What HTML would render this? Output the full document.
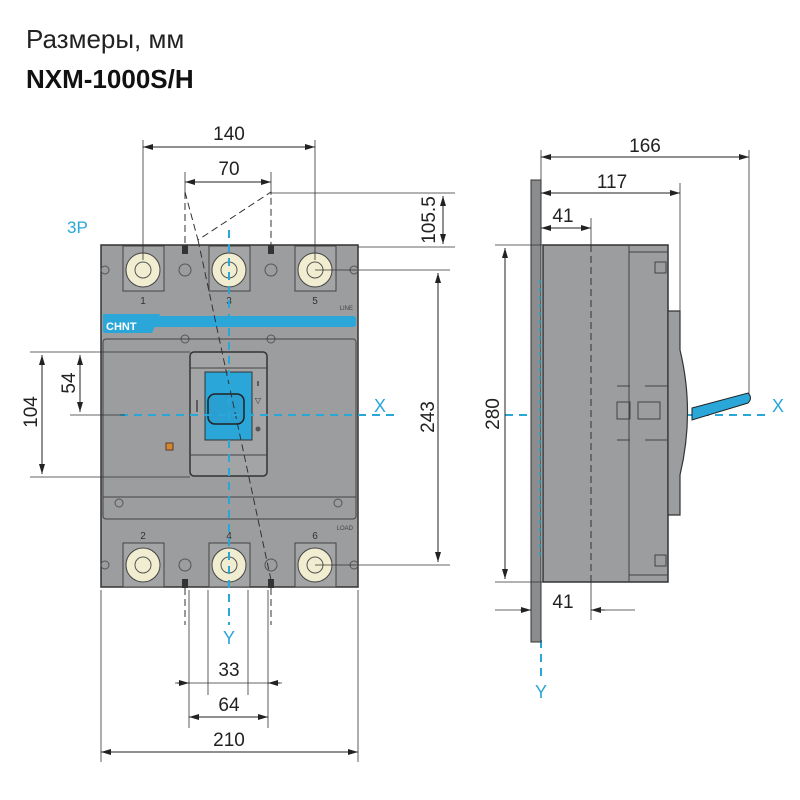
<!DOCTYPE html>
<html><head><meta charset="utf-8"><style>
body{margin:0;background:#fff}
svg{display:block}
text{font-family:"Liberation Sans","DejaVu Sans",sans-serif}
</style></head><body>
<svg width="800" height="800" viewBox="0 0 800 800" xmlns="http://www.w3.org/2000/svg">
<defs>
<marker id="a" viewBox="0 0 10 6" refX="10" refY="3" markerWidth="10" markerHeight="6" orient="auto-start-reverse" markerUnits="userSpaceOnUse"><path d="M0,0 L10,3 L0,6 z" fill="#222"/></marker>
</defs>
<text x="26" y="48" font-size="26" fill="#222">Размеры, мм</text>
<text x="26" y="88" font-size="26" font-weight="bold" fill="#111">NXM-1000S/H</text>
<text x="67" y="233" font-size="17" fill="#2aa6d9">3P</text>

<!-- front body -->
<rect x="101" y="245" width="257" height="342" fill="#9c9d9f" stroke="#333" stroke-width="1.5"/>
<g stroke="#444" fill="#a3a4a6" stroke-width="1">
<rect x="123" y="246" width="41" height="45"/><rect x="209" y="246" width="41" height="45"/><rect x="295" y="246" width="41" height="45"/>
<rect x="123" y="543" width="41" height="44"/><rect x="209" y="543" width="41" height="44"/><rect x="295" y="543" width="41" height="44"/>
</g>
<g fill="#f1edd0" stroke="#444">
<circle cx="143" cy="270" r="17"/><circle cx="229" cy="270" r="17"/><circle cx="315" cy="270" r="17"/>
<circle cx="143" cy="565" r="17"/><circle cx="229" cy="565" r="17"/><circle cx="315" cy="565" r="17"/>
</g>
<g fill="none" stroke="#555">
<circle cx="143" cy="270" r="8"/><circle cx="229" cy="270" r="8"/><circle cx="315" cy="270" r="8"/>
<circle cx="143" cy="565" r="8"/><circle cx="229" cy="565" r="8"/><circle cx="315" cy="565" r="8"/>
<circle cx="185" cy="270" r="6"/><circle cx="271" cy="270" r="6"/><circle cx="185" cy="565" r="6"/><circle cx="271" cy="565" r="6"/>
<circle cx="105" cy="270" r="4"/><circle cx="354" cy="270" r="4"/><circle cx="105" cy="565" r="4"/><circle cx="354" cy="565" r="4"/>
<circle cx="185" cy="339" r="4"/><circle cx="271" cy="339" r="4"/><circle cx="119" cy="503" r="4"/><circle cx="338" cy="503" r="4"/>
</g>
<g fill="#333"><rect x="182" y="245" width="6" height="9"/><rect x="268" y="245" width="6" height="9"/><rect x="182" y="579" width="6" height="9"/><rect x="268" y="579" width="6" height="9"/></g>
<g font-size="10" fill="#333" text-anchor="middle">
<text x="143" y="304">1</text><text x="229" y="304">3</text><text x="315" y="304">5</text>
<text x="143" y="539">2</text><text x="229" y="539">4</text><text x="315" y="539">6</text>
</g>
<text x="353" y="310" font-size="6" fill="#444" text-anchor="end">LINE</text>
<text x="353" y="530" font-size="6" fill="#444" text-anchor="end">LOAD</text>
<rect x="103" y="316" width="253" height="11" rx="3" fill="#2aa6d9"/>
<path d="M103,314 H160 L152,333 H105 Q103,333 103,331 z" fill="#2aa6d9"/>
<text x="106" y="330" font-size="11" font-weight="bold" fill="#fff">CHNT</text>
<rect x="103" y="339" width="253" height="180" rx="3" fill="none" stroke="#444"/>
<line x1="103" y1="497" x2="356" y2="497" stroke="#444"/>
<rect x="190" y="352" width="77" height="124" rx="4" fill="#a3a4a6" stroke="#333" stroke-width="1.5"/>
<line x1="190" y1="368" x2="267" y2="368" stroke="#444"/><line x1="190" y1="455" x2="267" y2="455" stroke="#444"/>
<rect x="205" y="372" width="47" height="68" fill="#2aa6d9" stroke="#333"/>
<rect x="208" y="394" width="36" height="30" rx="7" fill="#2a9fd2" stroke="#222" stroke-width="1.5"/>
<rect x="166" y="443" width="7" height="7" fill="#d08a2c" stroke="#633"/>
<g stroke="#444" stroke-width="1.5"><line x1="258" y1="381" x2="258" y2="386"/><line x1="197" y1="400" x2="197" y2="412"/></g>
<text x="258" y="403" font-size="8" fill="#333" text-anchor="middle">▽</text>
<circle cx="258" cy="429" r="2.5" fill="#555"/>

<!-- dashed pivot lines front -->
<g fill="none" stroke="#333" stroke-dasharray="7,4">
<path d="M185,192 L185,245 M185,192 L198,240 L271,192 L271,245"/>
<path d="M198,240 L271,580"/>
<path d="M185,588 V625 M271,588 V625"/>
</g>
<!-- axes -->
<g stroke="#2aa6d9" stroke-width="2" stroke-dasharray="8,6" fill="none">
<line x1="229" y1="230" x2="229" y2="625"/>
<line x1="120" y1="415" x2="395" y2="415"/>
<line x1="505" y1="415" x2="770" y2="415"/>
<line x1="541" y1="640" x2="541" y2="680"/>
</g>
<g font-size="18" fill="#2aa6d9" text-anchor="middle">
<text x="229" y="644">Y</text><text x="380" y="412">X</text><text x="778" y="412">X</text><text x="541" y="698">Y</text>
</g>

<!-- front dimensions -->
<g stroke="#333" stroke-width="0.8" fill="none">
<line x1="143" y1="140" x2="143" y2="260"/><line x1="315" y1="140" x2="315" y2="260"/>
<line x1="185" y1="172" x2="185" y2="195"/><line x1="271" y1="172" x2="271" y2="195"/>
<line x1="271" y1="193" x2="455" y2="193"/><line x1="358" y1="247" x2="455" y2="247"/>
<line x1="315" y1="270" x2="450" y2="270"/><line x1="315" y1="565" x2="450" y2="565"/>
<line x1="30" y1="352" x2="190" y2="352"/><line x1="30" y1="477" x2="190" y2="477"/>
<line x1="70" y1="415" x2="125" y2="415"/>
<line x1="101" y1="590" x2="101" y2="762"/><line x1="358" y1="590" x2="358" y2="762"/>
<line x1="189" y1="590" x2="189" y2="728"/><line x1="268" y1="590" x2="268" y2="728"/>
<line x1="208" y1="590" x2="208" y2="695"/><line x1="248" y1="590" x2="248" y2="695"/>
<line x1="175" y1="683" x2="282" y2="683"/>
</g>
<g stroke="#222" stroke-width="1" fill="none">
<line x1="143" y1="147" x2="315" y2="147" marker-start="url(#a)" marker-end="url(#a)"/>
<line x1="185" y1="182" x2="271" y2="182" marker-start="url(#a)" marker-end="url(#a)"/>
<line x1="443" y1="196" x2="443" y2="244" marker-start="url(#a)" marker-end="url(#a)"/>
<line x1="438" y1="273" x2="438" y2="562" marker-start="url(#a)" marker-end="url(#a)"/>
<line x1="42" y1="355" x2="42" y2="474" marker-start="url(#a)" marker-end="url(#a)"/>
<line x1="80" y1="355" x2="80" y2="412" marker-start="url(#a)" marker-end="url(#a)"/>
<line x1="177" y1="683" x2="189" y2="683" marker-end="url(#a)"/>
<line x1="280" y1="683" x2="268" y2="683" marker-end="url(#a)"/>
<line x1="189" y1="717" x2="268" y2="717" marker-start="url(#a)" marker-end="url(#a)"/>
<line x1="101" y1="752" x2="358" y2="752" marker-start="url(#a)" marker-end="url(#a)"/>
</g>
<g font-size="19" fill="#222" text-anchor="middle">
<text x="229" y="140">140</text><text x="229" y="175">70</text>
<text x="229" y="676">33</text><text x="229" y="711">64</text><text x="229" y="746">210</text>
<text transform="translate(435,220) rotate(-90)">105.5</text>
<text transform="translate(434,417) rotate(-90)">243</text>
<text transform="translate(37,412) rotate(-90)">104</text>
<text transform="translate(75,383) rotate(-90)">54</text>
<text transform="translate(499,414) rotate(-90)">280</text>
<text x="645" y="152">166</text><text x="612" y="188">117</text>
<text x="563" y="222">41</text><text x="563" y="608">41</text>
</g>

<!-- side view -->
<rect x="531" y="180" width="10" height="462" fill="#8b8c8e" stroke="#333"/>
<rect x="543" y="245" width="125" height="337" fill="#9c9d9f" stroke="#333" stroke-width="1.5"/>
<line x1="629" y1="245" x2="629" y2="582" stroke="#444"/>
<line x1="629" y1="252" x2="668" y2="252" stroke="#444"/><line x1="629" y1="575" x2="668" y2="575" stroke="#444"/>
<rect x="655" y="262" width="11" height="11" fill="none" stroke="#444"/><rect x="655" y="555" width="11" height="11" fill="none" stroke="#444"/>
<path d="M668,311 H680 V350 Q695,412 680,475 V515 H668 z" fill="#9c9d9f" stroke="#333" stroke-width="1.2"/>
<path d="M692,408 L748,393 Q753,398 748,403 L692,420 z" fill="#2aa6d9" stroke="#222"/>
<g fill="none" stroke="#444"><rect x="617" y="402" width="13" height="17"/><rect x="638" y="402" width="22" height="17"/>
<line x1="617" y1="386" x2="630" y2="386"/><line x1="645" y1="386" x2="668" y2="386"/><line x1="617" y1="440" x2="630" y2="440"/><line x1="645" y1="440" x2="668" y2="440"/></g>
<line x1="591" y1="245" x2="591" y2="582" stroke="#333" stroke-dasharray="7,4"/>
<g stroke="#2aa6d9" stroke-width="1.5" stroke-dasharray="4,4"><line x1="540" y1="280" x2="540" y2="560"/></g>
<g stroke="#333" stroke-width="0.8">
<line x1="541" y1="150" x2="541" y2="245"/><line x1="749" y1="150" x2="749" y2="395"/>
<line x1="680" y1="183" x2="680" y2="311"/><line x1="591" y1="218" x2="591" y2="245"/>
<line x1="495" y1="245" x2="543" y2="245"/><line x1="495" y1="582" x2="543" y2="582"/>
<line x1="591" y1="582" x2="591" y2="620"/>
<line x1="495" y1="610" x2="531" y2="610"/><line x1="591" y1="610" x2="635" y2="610"/>
</g>
<g stroke="#222" stroke-width="1" fill="none">
<line x1="541" y1="157" x2="749" y2="157" marker-start="url(#a)" marker-end="url(#a)"/>
<line x1="541" y1="193" x2="680" y2="193" marker-start="url(#a)" marker-end="url(#a)"/>
<line x1="541" y1="228" x2="591" y2="228" marker-start="url(#a)" marker-end="url(#a)"/>
<line x1="505" y1="248" x2="505" y2="579" marker-start="url(#a)" marker-end="url(#a)"/>
<line x1="520" y1="610" x2="531" y2="610" marker-end="url(#a)"/>
<line x1="605" y1="610" x2="591" y2="610" marker-end="url(#a)"/>
</g>
</svg>
</body></html>
